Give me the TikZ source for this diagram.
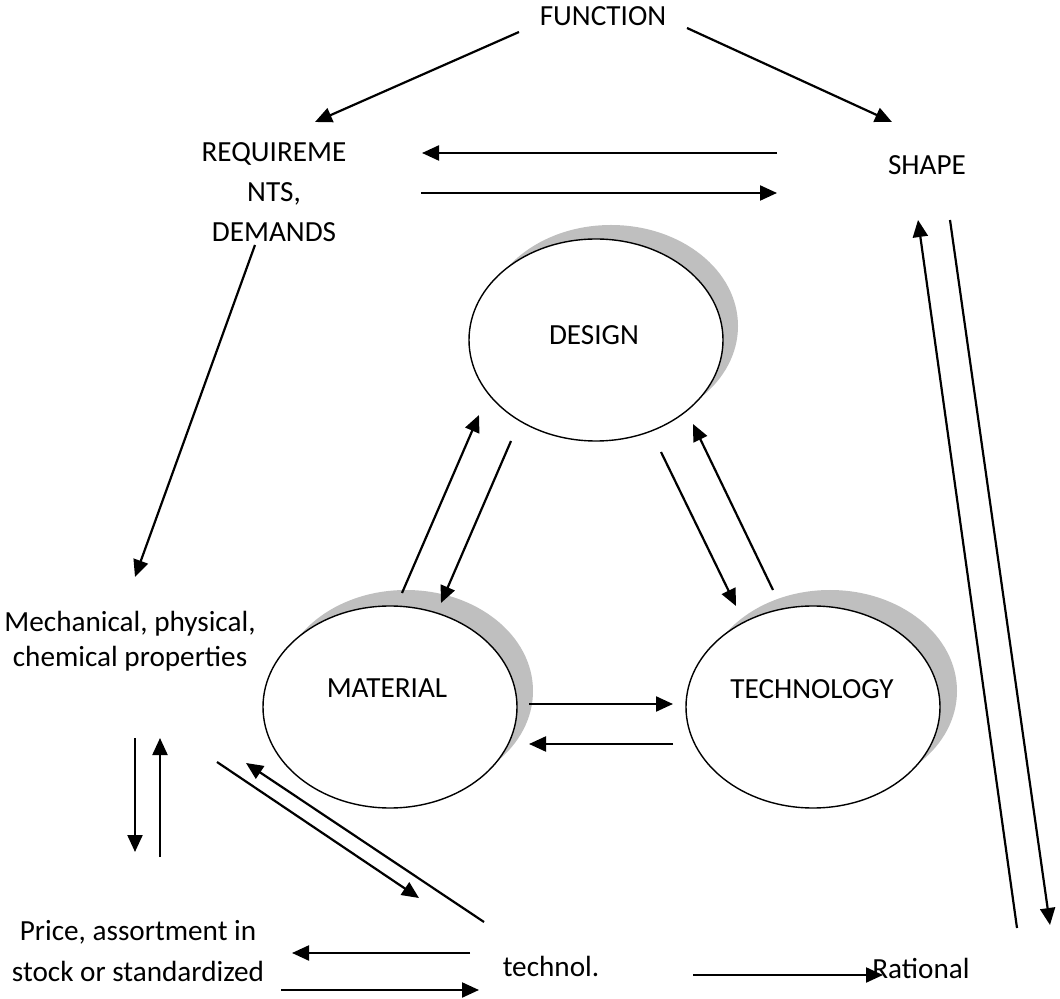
\documentclass[tikz,border=0pt]{standalone}
\usepackage{fontspec}
\setmainfont{Carlito}
\usetikzlibrary{arrows.meta,shapes.geometric}
\definecolor{shadowgray}{HTML}{BFBFBF}
\begin{document}
\begin{tikzpicture}[x=0.5pt,y=-0.5pt,
  lbl/.style={font=\fontsize{14.6}{20}\selectfont, inner sep=0pt, align=center},
  conn/.style={line width=1.1pt, -{Triangle[length=8.5pt,width=7.5pt]}},
  ell/.style={ellipse, draw, line width=0.7pt, fill=white,
    minimum width=127pt, minimum height=101pt, inner sep=0pt},
  ellshadow/.style={ellipse, fill=shadowgray,
    minimum width=127pt, minimum height=101pt, inner sep=0pt},
]
\useasboundingbox (0,0) rectangle (1060,999);

% text labels
\node[lbl] (fn) at (603,16) {FUNCTION};
\node[lbl] (req) at (274,192) {REQUIREME\\NTS,\\DEMANDS};
\node[lbl] (shape) at (927,165) {SHAPE};
\node[lbl, font=\fontsize{14.6}{17.5}\selectfont] (mech) at (130,641)
  {Mechanical, physical,\\chemical properties};
\node[lbl, font=\fontsize{14.6}{20.5}\selectfont] (price) at (138,951)
  {Price, assortment in\\stock or standardized};
\node[lbl] (technol) at (551,966) {technol.};
\node[lbl] (rational) at (921,968) {Rational};

% the three ellipses with their shadows
\node[ellshadow] (designshadow) at (611,326) {};
\node[ell] (design) at (596,340) {};
\node[lbl] (designtext) at (594,335) {DESIGN};

\node[ellshadow] (materialshadow) at (406,691) {};
\node[ell] (material) at (390,707) {};
\node[lbl] (materialtext) at (387,688) {MATERIAL};

\node[ellshadow] (techshadow) at (830,691) {};
\node[ell] (tech) at (813,707) {};
\node[lbl] (techtext) at (812,689) {TECHNOLOGY};

% connector end points
\coordinate (fnL) at (519,32);      \coordinate (reqT) at (315,122);
\coordinate (fnR) at (687,28);      \coordinate (shapeT) at (892,122);
\coordinate (shapeW1) at (777,153); \coordinate (reqE1) at (422,153);
\coordinate (reqE2) at (421,193);   \coordinate (shapeW2) at (777,193);
\coordinate (reqS) at (255,245);    \coordinate (mechN) at (135,577);
\coordinate (matN1) at (402,593);   \coordinate (desSW1) at (479,415);
\coordinate (desSW2) at (511,441);  \coordinate (matN2) at (441,603);
\coordinate (desSE1) at (661,452);  \coordinate (techN1) at (736,606);
\coordinate (techN2) at (773,590);  \coordinate (desSE2) at (693,424);
\coordinate (matE1) at (529,704);   \coordinate (techW1) at (673,704);
\coordinate (techW2) at (673,744);  \coordinate (matE2) at (529,744);
\coordinate (mechS1) at (135,738);  \coordinate (priceN1) at (135,852);
\coordinate (priceN2) at (160,857); \coordinate (mechS2) at (160,738);
\coordinate (matSW1) at (217,762);  \coordinate (technolN1) at (419,898);
\coordinate (technolN2) at (484,922); \coordinate (matSW2) at (246,763);
\coordinate (technolW1) at (470,953); \coordinate (priceE1) at (292,953);
\coordinate (priceE2) at (281,990); \coordinate (technolW2) at (479,990);
\coordinate (technolE) at (693,975); \coordinate (rationalW) at (883,975);
\coordinate (rationalN1) at (1017,928); \coordinate (shapeS1) at (918,220);
\coordinate (shapeS2) at (950,220); \coordinate (rationalN2) at (1050,925);

% connectors
\draw[conn] (fnL) -- (reqT);
\draw[conn] (fnR) -- (shapeT);
\draw[conn] (shapeW1) -- (reqE1);
\draw[conn] (reqE2) -- (shapeW2);
\draw[conn] (reqS) -- (mechN);
\draw[conn] (matN1) -- (desSW1);
\draw[conn] (desSW2) -- (matN2);
\draw[conn] (desSE1) -- (techN1);
\draw[conn] (techN2) -- (desSE2);
\draw[conn] (matE1) -- (techW1);
\draw[conn] (techW2) -- (matE2);
\draw[conn] (mechS1) -- (priceN1);
\draw[conn] (priceN2) -- (mechS2);
\draw[conn] (matSW1) -- (technolN1);
\draw[conn] (technolN2) -- (matSW2);
\draw[conn] (technolW1) -- (priceE1);
\draw[conn] (priceE2) -- (technolW2);
\draw[conn] (technolE) -- (rationalW);
\draw[conn] (rationalN1) -- (shapeS1);
\draw[conn] (shapeS2) -- (rationalN2);
\end{tikzpicture}
\end{document}
